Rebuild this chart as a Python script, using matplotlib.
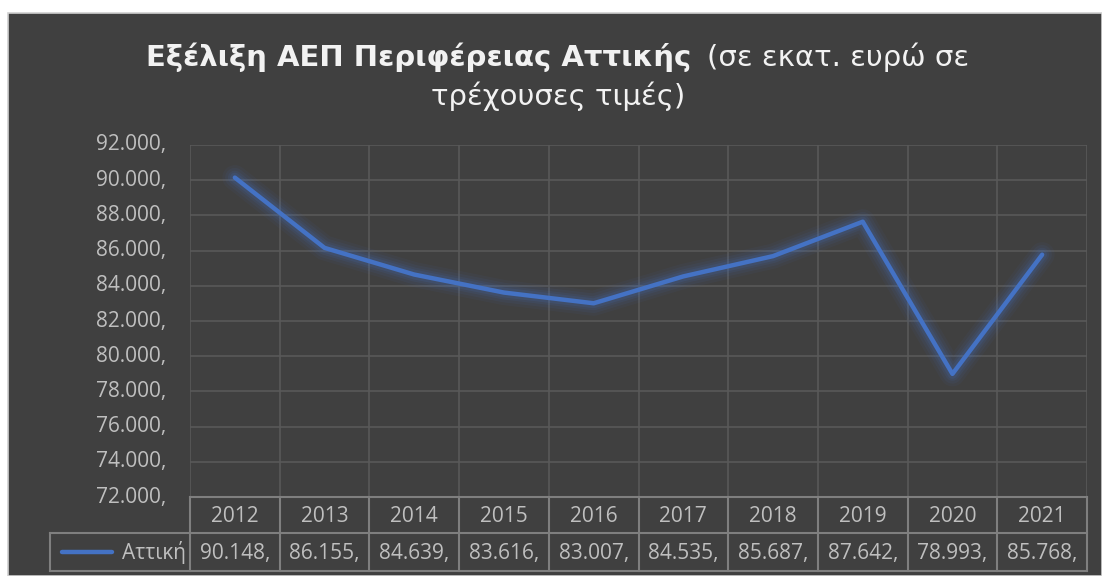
import numpy as np
import matplotlib.pyplot as plt
from matplotlib.lines import Line2D
from matplotlib.patches import Rectangle

years = ['2012', '2013', '2014', '2015', '2016', '2017', '2018', '2019', '2020', '2021']
attiki = [90148, 86155, 84639, 83616, 83007, 84535, 85687, 87642, 78993, 85768]
series_name = 'Αττική'
yticks = [72000, 74000, 76000, 78000, 80000, 82000, 84000, 86000, 88000, 90000, 92000]

BG = '#404040'
TXT = '#BFBFBF'
GRID = '#595959'
TBL = '#7F7F7F'
BLUE = '#4472C4'
FONT = ['Open Sans', 'DejaVu Sans']
TFONT = ['DejaVu Sans']

W, H = 1102, 576


def fx(x):
    return x / W


def fy(y):
    return 1 - y / H


def fmt(v):
    return f"{v:,.0f}".replace(',', '.') + ','


fig = plt.figure(figsize=(W / 100, H / 100), dpi=100, facecolor='white')
fig.patches.append(Rectangle((fx(8), 0), 1 - fx(8), fy(13), transform=fig.transFigure,
                             facecolor=BG, edgecolor='#D0D0D0', lw=1.2, zorder=-10))

# title
fig.text(fx(691), fy(57), 'Εξέλιξη ΑΕΠ Περιφέρειας Αττικής', ha='right', va='center',
         color='#F2F2F2', fontsize=21, fontweight='bold', family=TFONT)
fig.text(fx(707), fy(57), '(σε εκατ. ευρώ σε', ha='left', va='center',
         color='#F2F2F2', fontsize=21, family=TFONT)
fig.text(fx(558), fy(96), 'τρέχουσες τιμές)', ha='center', va='center',
         color='#F2F2F2', fontsize=21, family=TFONT)

L, R, T, B = 190, 1087, 145, 497
ax = fig.add_axes([fx(L), fy(B), fx(R - L), (B - T) / H])
ax.patch.set_alpha(0)
x = np.arange(len(years))

# glow
for lw, a in [(18, 0.06), (14, 0.08), (10, 0.10), (7, 0.14)]:
    ax.plot(x, attiki, color=BLUE, lw=lw, alpha=a, solid_capstyle='round', solid_joinstyle='round')
ax.plot(x, attiki, color=BLUE, lw=3.2, solid_capstyle='round', solid_joinstyle='round', zorder=5)

ax.set_xlim(-0.5, len(years) - 0.5)
ax.set_ylim(72000, 92000)
ax.set_yticks(yticks)
ax.set_yticklabels([fmt(v) for v in yticks], color=TXT, fontsize=15, family=FONT)
ax.tick_params(axis='y', length=0, pad=17)
ax.set_xticks([])
for v in yticks:
    ax.axhline(v, color=GRID, lw=1.2, zorder=1)
for i in range(len(years) + 1):
    ax.axvline(i - 0.5, color=GRID, lw=1.2, zorder=1)
for s in ax.spines.values():
    s.set_visible(False)
for lab in ax.get_yticklabels():
    lab.set_verticalalignment('center')

# data table
cw = (R - L) / len(years)
r0, r1, r2 = 497, 533, 571
tk = dict(transform=fig.transFigure, color=TBL, lw=1.5)
fig.add_artist(Line2D([fx(L), fx(R)], [fy(r0), fy(r0)], **tk))
fig.add_artist(Line2D([fx(50), fx(R)], [fy(r1), fy(r1)], **tk))
fig.add_artist(Line2D([fx(50), fx(R)], [fy(r2), fy(r2)], **tk))
fig.add_artist(Line2D([fx(50), fx(50)], [fy(r1), fy(r2)], **tk))
for i in range(len(years) + 1):
    xp = L + i * cw
    fig.add_artist(Line2D([fx(xp), fx(xp)], [fy(r0), fy(r2)], **tk))
for i, (yr, v) in enumerate(zip(years, attiki)):
    xc = L + (i + 0.5) * cw
    fig.text(fx(xc), fy((r0 + r1) / 2 + 1), yr, ha='center', va='center', color=TXT, fontsize=15, family=FONT)
    fig.text(fx(xc), fy((r1 + r2) / 2 + 1), fmt(v), ha='center', va='center', color=TXT, fontsize=15, family=FONT)
fig.add_artist(Line2D([fx(62), fx(112)], [fy(552), fy(552)], transform=fig.transFigure,
                      color=BLUE, lw=3.2, solid_capstyle='round'))
fig.text(fx(186), fy(553), series_name, ha='right', va='center', color=TXT, fontsize=15, family=FONT)

fig.savefig('out.png', dpi=100, facecolor=fig.get_facecolor())
